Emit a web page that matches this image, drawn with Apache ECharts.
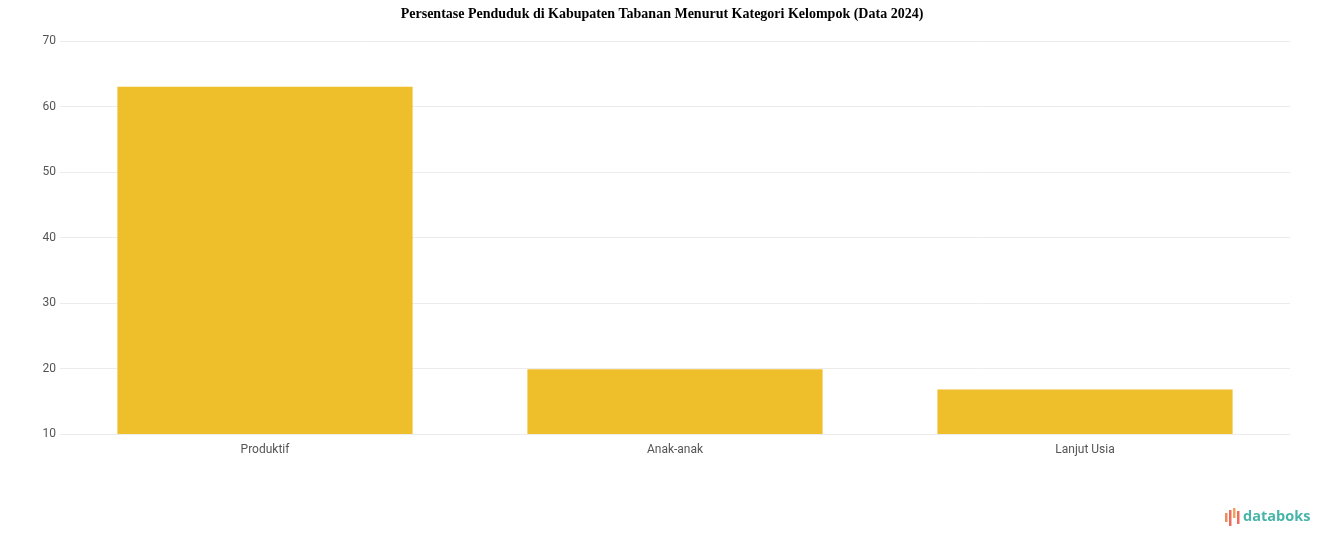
<!DOCTYPE html>
<html>
<head>
<meta charset="utf-8">
<script src="https://cdn.jsdelivr.net/npm/echarts@6/dist/echarts.min.js"></script>
<style>
html,body{margin:0;padding:0;background:#fff;}
#chart{width:1324px;height:547px;}
</style>
</head>
<body>
<div id="chart"></div>
<script>
const titleText = 'Persentase Penduduk di Kabupaten Tabanan Menurut Kategori Kelompok (Data 2024)';
const categories = ['Produktif', 'Anak-anak', 'Lanjut Usia'];
const values = [63.0, 19.9, 16.8];
const yTicks = [10, 20, 30, 40, 50, 60, 70];

const chart = echarts.init(document.getElementById('chart'));
chart.setOption({
  animation: false,
  backgroundColor: '#ffffff',
  title: {
    text: titleText,
    left: 'center',
    top: 2,
    textStyle: { fontFamily: 'Liberation Serif', fontWeight: 'bold', fontSize: 14, color: '#000' }
  },
  grid: { left: 60, right: 34, top: 41, bottom: 113, containLabel: false },
  xAxis: {
    type: 'category',
    data: categories,
    axisLine: { show: false },
    axisTick: { show: false },
    axisLabel: { color: '#555', fontSize: 12, fontFamily: 'Roboto', margin: 10 }
  },
  yAxis: {
    type: 'value',
    min: yTicks[0],
    max: yTicks[yTicks.length - 1],
    interval: 10,
    axisLine: { show: false },
    axisTick: { show: false },
    axisLabel: { color: '#555', fontSize: 12, fontFamily: 'Roboto', margin: 4 },
    splitLine: { lineStyle: { color: '#ececec', width: 1 } }
  },
  series: [{
    type: 'bar',
    data: values,
    barWidth: '72%',
    itemStyle: { color: '#EFBE2B' }
  }],
  graphic: [
    { type: 'rect', shape: { x: 1225, y: 513, width: 2.5, height: 9 }, style: { fill: '#f08a5d' } },
    { type: 'rect', shape: { x: 1229, y: 510, width: 2.5, height: 16 }, style: { fill: '#ef6b5b' } },
    { type: 'rect', shape: { x: 1233, y: 508, width: 2.5, height: 10 }, style: { fill: '#f4a259' } },
    { type: 'rect', shape: { x: 1237, y: 511, width: 2.5, height: 13 }, style: { fill: '#ef6b5b' } },
    { type: 'text', left: 1243, top: 509, style: { text: 'databoks', fill: '#48b5a9', font: 'bold 14.5px "Open Sans"' } }
  ]
});
</script>
</body>
</html>
